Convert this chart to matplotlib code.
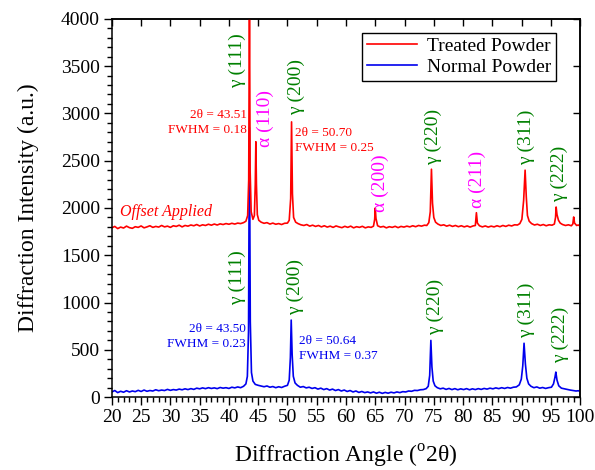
import matplotlib
matplotlib.use("Agg")
import matplotlib.pyplot as plt
from matplotlib.ticker import MultipleLocator

plt.rcParams['font.family'] = ['Liberation Serif', 'DejaVu Serif']
plt.rcParams['mathtext.fontset'] = 'custom'
plt.rcParams['mathtext.rm'] = 'Liberation Serif'

# treated powder (offset applied)
red_angle = [20.0, 20.5, 21.0, 21.5, 22.0, 22.5, 23.0, 23.5, 24.0, 24.5, 25.0, 25.5, 26.0, 26.5,
             27.0, 27.5, 28.0, 28.5, 29.0, 29.5, 30.0, 30.5, 31.0, 31.5, 32.0, 32.5, 33.0, 33.5,
             34.0, 34.5, 35.0, 35.5, 36.0, 36.5, 37.0, 37.5, 38.0, 38.5, 39.0, 39.5, 40.0, 40.5,
             41.0, 41.5, 42.0, 42.5, 42.9, 43.2, 43.38, 43.51, 43.62, 43.8, 44.1, 44.35, 44.5,
             44.6, 44.7, 44.85, 45.1, 45.5, 46.0, 46.5, 47.0, 47.5, 48.0, 48.5, 49.0, 49.5, 50.0,
             50.3, 50.55, 50.7, 50.85, 51.05, 51.4, 51.8, 52.3, 52.8, 53.3, 53.8, 54.3, 54.8, 55.3,
             55.8, 56.3, 56.8, 57.3, 57.8, 58.3, 58.8, 59.3, 59.8, 60.3, 60.8, 61.3, 61.8, 62.3,
             62.8, 63.3, 63.8, 64.3, 64.7, 64.9, 65.0, 65.12, 65.4, 65.9, 66.4, 66.9, 67.4, 67.9,
             68.4, 68.9, 69.4, 69.9, 70.4, 70.9, 71.4, 71.9, 72.4, 72.9, 73.4, 73.8, 74.15, 74.4,
             74.6, 74.78, 75.0, 75.3, 75.7, 76.2, 76.7, 77.2, 77.7, 78.2, 78.7, 79.2, 79.7, 80.2,
             80.7, 81.2, 81.7, 82.1, 82.28, 82.45, 82.8, 83.3, 83.8, 84.3, 84.8, 85.3, 85.8, 86.3,
             86.8, 87.3, 87.8, 88.3, 88.8, 89.3, 89.7, 90.05, 90.35, 90.6, 90.8, 91.0, 91.3, 91.7,
             92.2, 92.7, 93.2, 93.7, 94.2, 94.7, 95.2, 95.6, 95.8, 95.9, 96.05, 96.3, 96.6, 97.0,
             97.5, 98.0, 98.5, 98.75, 98.9, 99.05, 99.4, 99.7, 100.0]
red_counts = [1790, 1805, 1782, 1798, 1788, 1808, 1792, 1785, 1802, 1795, 1810, 1790, 1800, 1812,
              1795, 1805, 1798, 1815, 1800, 1808, 1795, 1812, 1805, 1818, 1800, 1815, 1808, 1820,
              1812, 1825, 1810, 1822, 1815, 1828, 1818, 1830, 1820, 1832, 1825, 1835, 1828, 1838,
              1830, 1840, 1835, 1845, 1860, 1920, 2300, 4300, 2400, 1960, 1880, 1920, 2250,
              2700, 2250, 1930, 1870, 1850, 1838, 1845, 1830, 1840, 1828, 1835, 1825, 1838, 1840,
              1870, 2100, 2910, 2150, 1900, 1850, 1835, 1822, 1815, 1825, 1808, 1818, 1805, 1815,
              1800, 1812, 1798, 1808, 1795, 1810, 1800, 1792, 1806, 1795, 1808, 1790, 1802, 1795,
              1806, 1790, 1800, 1795, 1808, 1880, 2000, 1890, 1812, 1798, 1805, 1790, 1802, 1795,
              1806, 1792, 1805, 1798, 1808, 1800, 1812, 1802, 1815, 1808, 1818, 1815, 1845, 1960,
              2410, 2050, 1900, 1850, 1830, 1815, 1822, 1808, 1818, 1805, 1815, 1802, 1812, 1800,
              1810, 1798, 1810, 1815, 1950, 1840, 1812, 1800, 1810, 1798, 1808, 1800, 1812, 1802,
              1815, 1805, 1818, 1810, 1822, 1820, 1835, 1880, 2080, 2400, 2120, 1920, 1860, 1835,
              1820, 1828, 1815, 1825, 1812, 1822, 1818, 1830, 1900, 2010, 1930, 1870, 1840, 1825,
              1815, 1822, 1812, 1830, 1905, 1840, 1815, 1820, 1808]

# normal powder
blue_angle = [20.0, 20.5, 21.0, 21.5, 22.0, 22.5, 23.0, 23.5, 24.0, 24.5, 25.0, 25.5, 26.0, 26.5,
              27.0, 27.5, 28.0, 28.5, 29.0, 29.5, 30.0, 30.5, 31.0, 31.5, 32.0, 32.5, 33.0, 33.5,
              34.0, 34.5, 35.0, 35.5, 36.0, 36.5, 37.0, 37.5, 38.0, 38.5, 39.0, 39.5, 40.0, 40.5,
              41.0, 41.5, 42.0, 42.5, 42.9, 43.15, 43.35, 43.5, 43.65, 43.85, 44.1, 44.5, 45.0,
              45.5, 46.0, 46.5, 47.0, 47.5, 48.0, 48.5, 49.0, 49.5, 50.0, 50.3, 50.5, 50.64, 50.8,
              51.0, 51.3, 51.7, 52.2, 52.7, 53.2, 53.7, 54.2, 54.7, 55.2, 55.7, 56.2, 56.7, 57.2,
              57.7, 58.2, 58.7, 59.2, 59.7, 60.2, 60.7, 61.2, 61.7, 62.2, 62.7, 63.2, 63.7, 64.2,
              64.7, 65.2, 65.7, 66.2, 66.7, 67.2, 67.7, 68.2, 68.7, 69.2, 69.7, 70.2, 70.7, 71.2,
              71.7, 72.2, 72.7, 73.2, 73.7, 74.05, 74.3, 74.5, 74.68, 74.9, 75.2, 75.6, 76.1, 76.6,
              77.1, 77.6, 78.1, 78.6, 79.1, 79.6, 80.1, 80.6, 81.1, 81.6, 82.1, 82.6, 83.1, 83.6,
              84.1, 84.6, 85.1, 85.6, 86.1, 86.6, 87.1, 87.6, 88.1, 88.6, 89.1, 89.6, 89.95, 90.2,
              90.42, 90.65, 90.9, 91.2, 91.6, 92.1, 92.6, 93.1, 93.6, 94.1, 94.6, 95.1, 95.45, 95.7,
              95.85, 96.05, 96.35, 96.8, 97.3, 97.8, 98.3, 98.8, 99.3, 99.7, 100.0]
blue_counts = [55, 70, 48, 62, 52, 68, 55, 65, 58, 72, 60, 75, 62, 70,
               65, 78, 68, 75, 70, 82, 72, 80, 75, 85, 78, 88, 80, 90,
               82, 95, 88, 98, 90, 100, 92, 98, 90, 102, 95, 100, 92, 105,
               98, 108, 100, 115, 140, 220, 700, 2850, 800, 260, 170, 135, 125,
               118, 110, 118, 105, 112, 100, 110, 102, 115, 125, 180, 420, 815, 450,
               220, 150, 125, 105, 112, 98, 105, 92, 100, 85, 95, 80, 90, 75,
               85, 70, 80, 65, 75, 60, 70, 55, 65, 50, 60, 48, 55, 45,
               55, 42, 52, 40, 50, 42, 52, 45, 55, 48, 58, 55, 65, 62,
               72, 70, 78, 80, 90, 115, 230, 600, 320, 170, 120, 100, 88, 95,
               82, 92, 80, 90, 78, 88, 80, 90, 78, 88, 80, 90, 82, 92,
               85, 95, 88, 98, 90, 100, 92, 102, 95, 105, 108, 130, 190, 330,
               570, 350, 200, 140, 115, 100, 108, 95, 102, 92, 100, 105, 140, 210,
               265, 180, 120, 95, 88, 80, 75, 70, 65, 68, 60]

# peak labels: text, angle, bottom of label
red_labels = ['γ (111)', 'α (110)', 'γ (200)', 'α (200)', 'γ (220)', 'α (211)', 'γ (311)', 'γ (222)']
red_label_x = [41.5, 46.2, 51.6, 65.8, 74.9, 82.4, 90.9, 96.4]
red_label_y = [3270, 2640, 2985, 1960, 2455, 2000, 2455, 2065]
red_label_colors = ['green', 'magenta', 'green', 'magenta', 'green', 'magenta', 'green', 'green']

blue_labels = ['γ (111)', 'γ (200)', 'γ (220)', 'γ (311)', 'γ (222)']
blue_label_x = [41.5, 51.3, 75.2, 90.9, 96.6]
blue_label_y = [973, 868, 656, 624, 360]

fig = plt.figure(figsize=(5.95, 4.70), dpi=100)
ax = fig.add_axes([0.188, 0.155, 0.787, 0.805])

ax.plot(blue_angle, blue_counts, color='#0000ee', lw=1.2, label='Normal Powder')
ax.plot(red_angle, red_counts, color='#ff0000', lw=1.2, label='Treated Powder')

green = '#008000'
magenta = '#ff00ff'
for t, x, y, c in zip(red_labels, red_label_x, red_label_y, red_label_colors):
    ax.text(x, y, t, rotation=90, ha='center', va='bottom', fontsize=14,
            color=green if c == 'green' else magenta)
for t, x, y in zip(blue_labels, blue_label_x, blue_label_y):
    ax.text(x, y, t, rotation=90, ha='center', va='bottom', fontsize=14, color=green)

ax.text(43.1, 2900, '2θ = 43.51\nFWHM = 0.18', ha='right', va='center', fontsize=9.5,
        color='#ff0000', linespacing=1.3)
ax.text(51.3, 2710, '2θ = 50.70\nFWHM = 0.25', ha='left', va='center', fontsize=9.5,
        color='#ff0000', linespacing=1.3)
ax.text(42.9, 640, '2θ = 43.50\nFWHM = 0.23', ha='right', va='center', fontsize=9.5,
        color='#0000ee', linespacing=1.3)
ax.text(52.0, 515, '2θ = 50.64\nFWHM = 0.37', ha='left', va='center', fontsize=9.5,
        color='#0000ee', linespacing=1.3)
ax.text(21.4, 1960, 'Offset Applied', ha='left', va='center', fontsize=11.5,
        style='italic', color='#ff0000')

ax.set_xlim(20, 100)
ax.set_ylim(0, 4000)
ax.xaxis.set_major_locator(MultipleLocator(5))
ax.xaxis.set_minor_locator(MultipleLocator(1))
ax.yaxis.set_major_locator(MultipleLocator(500))
ax.yaxis.set_minor_locator(MultipleLocator(100))
ax.tick_params(which='major', direction='out', length=6, width=1, labelsize=14, pad=2.5)
ax.tick_params(which='minor', direction='out', length=3.5, width=1)

top = ax.secondary_xaxis('top')
top.xaxis.set_major_locator(MultipleLocator(5))
top.tick_params(direction='in', length=5, width=1, labeltop=False)
right = ax.secondary_yaxis('right')
right.yaxis.set_major_locator(MultipleLocator(500))
right.tick_params(direction='in', length=5, width=1, labelright=False)

for s in list(ax.spines.values()) + [top.spines['top'], right.spines['right']]:
    s.set_linewidth(1.1)

ax.set_xlabel(r'Diffraction Angle ($^\mathregular{o}$2θ)', fontsize=17, labelpad=12)
ax.set_ylabel('Diffraction Intensity (a.u.)', fontsize=17, labelpad=16)

handles, labels = ax.get_legend_handles_labels()
leg = ax.legend(handles[::-1], labels[::-1], loc='upper right', bbox_to_anchor=(0.949, 0.963),
                borderaxespad=0, fontsize=14, fancybox=False, edgecolor='black', framealpha=1,
                handlelength=2.6, borderpad=0.25, labelspacing=0.15, handletextpad=0.5)
leg.get_frame().set_linewidth(1.0)

fig.savefig('out.png', dpi=100)
